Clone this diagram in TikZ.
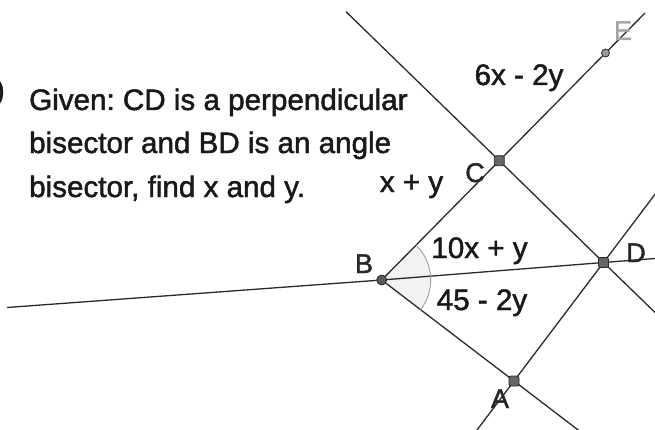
\documentclass[tikz,border=0pt]{standalone}
\usepackage{fontspec}
\setmainfont{Liberation Sans}[FakeBold=1.6]
\frenchspacing
\definecolor{ink}{HTML}{2A2A2A}
\tikzset{
  geo/.style={draw=ink, line width=1.3pt, line join=round},
  txt/.style={font=\fontsize{29.6}{35}\selectfont, text=black!90, inner sep=0pt, anchor=base},
  ptlab/.style={font=\fontsize{27}{31}\selectfont, text=black!85, inner sep=0pt, anchor=base},
  vert/.style={rectangle, rounded corners=2pt, draw=black!85, fill=black!60, line width=0.8pt, inner sep=0pt, minimum size=10pt},
  bvert/.style={circle, draw=black!85, fill=black!65, line width=0.8pt, inner sep=0pt, minimum size=10pt},
  evert/.style={circle, draw=black!85, fill=black!40, line width=0.8pt, inner sep=0pt, minimum size=8pt},
}
\begin{document}
\begin{tikzpicture}[x=1pt,y=1pt]
\useasboundingbox (0,0) rectangle (655,429);
% points
\coordinate (B) at (381.7,149);
\coordinate (C) at (499.3,268.3);
\coordinate (D) at (603.5,166.5);
\coordinate (A) at (514,48);
\coordinate (E) at (605.5,376);
% free ends
\coordinate (L) at (7,121.5);
\coordinate (R) at (660,170.9);
\coordinate (T1) at (346,417.3);
\coordinate (T2) at (645,416);
\coordinate (Rd) at (660,111.7);
\coordinate (Ru) at (660,241.3);
\coordinate (Bl) at (474,-5);
\coordinate (Br) at (583.4,-5);
% angle wedge
\fill[gray!10] (B) -- ++(-37.36:49pt) arc[start angle=-37.36, end angle=45.4, radius=49pt] -- cycle;
% lines
\draw[geo] (L) -- (B) -- (D) -- (R);
\draw[geo] (T1) -- (C) -- (D) -- (Rd);
\draw[geo] (B) -- (C) -- (E) -- (T2);
\draw[geo] (B) -- (A) -- (Br);
\draw[geo] (Bl) -- (A) -- (D) -- (Ru);
% angle arc
\draw[gray!75, line width=0.9pt] (B) ++(-37.36:49pt) arc[start angle=-37.36, end angle=45.4, radius=49pt];
% vertices
\node[bvert] (pB) at (B) {};
\node[vert] (pC) at (C) {};
\node[vert] (pD) at (D) {};
\node[vert] (pA) at (A) {};
\node[evert] (pE) at (E) {};
% text
\node[txt, anchor=base east] (frag) at (5,329) {)};
\node[txt, anchor=base west] (t1) at (29,319) {Given: CD is a perpendicular};
\node[txt, anchor=base west] (t2) at (29,276) {bisector and BD is an angle};
\node[txt, anchor=base west] (t3) at (29,232) {bisector, find x and y.};
% labels
\node[txt] (lxy) at (411.5,237) {x + y};
\node[txt] (l10) at (479.5,171) {10x + y};
\node[txt] (l45) at (482,119) {45 - 2y};
\node[txt] (l6) at (519,344) {6x - 2y};
\node[ptlab] (lB) at (364,156) {B};
\node[ptlab] (lC) at (475,247) {C};
\node[ptlab] (lD) at (636,167) {D};
\node[ptlab] (lA) at (500,21) {A};
\node[ptlab, text=gray!70] (lE) at (623,389) {E};
\end{tikzpicture}
\end{document}
